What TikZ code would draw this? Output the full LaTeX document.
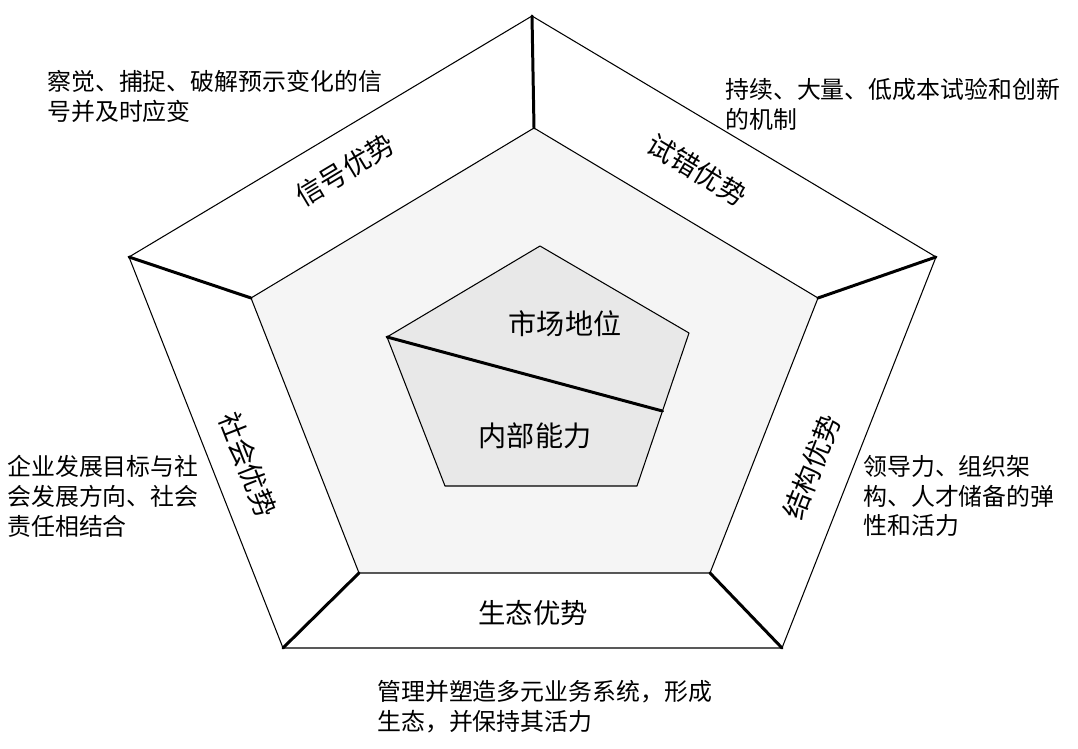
\documentclass[tikz,border=0pt]{standalone}
\usepackage{fontspec}
\setmainfont{Noto Sans CJK SC}
\usetikzlibrary{calc}
\colorlet{bandfill}{black!4}
\colorlet{corefill}{black!9}

\begin{document}
\begin{tikzpicture}[
    edge/.style={draw=black, line width=0.6pt, line join=round},
    spoke/.style={draw=black, line width=1.7pt, line cap=round},
    bandlabel/.style={font=\fontsize{15.6}{18}\selectfont, inner sep=0pt},
    corelabel/.style={font=\fontsize{16}{19}\selectfont, inner sep=0pt},
    note/.style={font=\fontsize{13.6}{17}\selectfont, align=left,
      anchor=west, inner sep=0pt}
  ]

    \useasboundingbox (0, 0) rectangle (21.56, 14.98);

    % Outer pentagon
    \coordinate (ot)  at (10.64, 14.66);
    \coordinate (ol)  at (2.58, 9.84);
    \coordinate (or)  at (18.72, 9.84);
    \coordinate (obl) at (5.66, 2.02);
    \coordinate (obr) at (15.64, 2.02);
    \draw[edge, fill=white] (ot) -- (or) -- (obr) -- (obl) -- (ol) -- cycle;

    % Middle pentagon
    \coordinate (mt)  at (10.68, 12.42);
    \coordinate (ml)  at (5.02, 9.02);
    \coordinate (mr)  at (16.36, 9.02);
    \coordinate (mbl) at (7.18, 3.52);
    \coordinate (mbr) at (14.20, 3.52);
    \draw[edge, fill=bandfill] (mt) -- (mr) -- (mbr) -- (mbl) -- (ml) -- cycle;

    % Spokes between the two pentagons
    \draw[spoke] (ot) -- (mt);
    \draw[spoke] (ol) -- (ml);
    \draw[spoke] (or) -- (mr);
    \draw[spoke] (obl) -- (mbl);
    \draw[spoke] (obr) -- (mbr);

    % Inner pentagon
    \coordinate (it)  at (10.80, 10.06);
    \coordinate (il)  at (7.74, 8.24);
    \coordinate (ir)  at (13.78, 8.32);
    \coordinate (ibl) at (8.90, 5.26);
    \coordinate (ibr) at (12.74, 5.26);
    \draw[edge, fill=corefill] (it) -- (ir) -- (ibr) -- (ibl) -- (il) -- cycle;

    % Divider
    \coordinate (cut) at ($(ir)!0.51!(ibr)$);
    \draw[spoke] (il) -- (cut);

    % Labels in the core
    \node[corelabel] (market) at (11.30, 8.50) {市场地位};
    \node[corelabel] (inner)  at (10.70, 6.26) {内部能力};

    % Labels in the band
    \node[bandlabel, rotate=31]    (signal)  at (6.90, 11.58) {信号优势};
    \node[bandlabel, rotate=-31]   (trial)   at (13.94, 11.58) {试错优势};
    \node[bandlabel, rotate=-68.6] (social)  at (4.96, 5.68) {社会优势};
    \node[bandlabel, rotate=68.6]  (struct)  at (16.24, 5.64) {结构优势};
    \node[bandlabel]               (eco)     at (10.66, 2.72) {生态优势};

    % Notes
    \node[note] (signalnote) at (0.94, 13.05)
      {察觉、捕捉、破解预示变化的信\\号并及时应变};
    \node[note] (trialnote) at (14.50, 12.90)
      {持续、大量、低成本试验和创新\\的机制};
    \node[note] (socialnote) at (0.14, 5.06)
      {企业发展目标与社\\会发展方向、社会\\责任相结合};
    \node[note] (structnote) at (17.26, 5.06)
      {领导力、组织架\\构、人才储备的弹\\性和活力};
    \node[note] (econote) at (7.54, 0.85)
      {管理并塑造多元业务系统，形成\\生态，并保持其活力};

  \end{tikzpicture}
\end{document}
